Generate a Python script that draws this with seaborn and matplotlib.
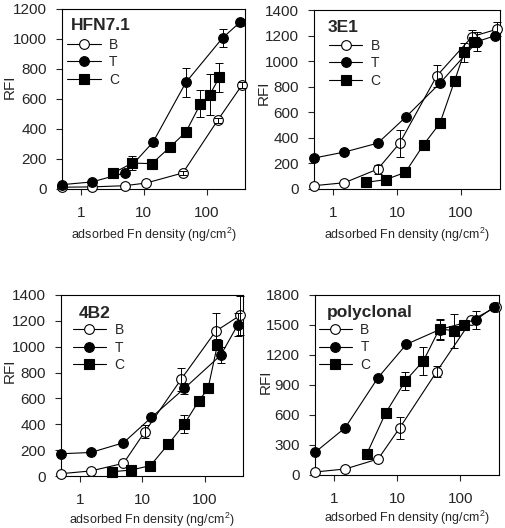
import pandas as pd
import matplotlib
import matplotlib.pyplot as plt
import seaborn as sns
from matplotlib.ticker import FixedLocator, NullLocator

matplotlib.use("Agg")

# adsorbed Fn density (ng/cm^2) for each series
x_b = [0.5, 1.5, 5, 11, 42, 150, 370]
x_t = [0.5, 1.5, 5, 14, 47, 180, 340]
x_c = [3.3, 6.6, 13.5, 26, 47, 80, 113, 160]

# HFN7.1
hfn_b = [12, 14, 22, 40, 107, 457, 695]
hfn_b_err = [0, 0, 0, 0, 12, 15, 20]
hfn_t = [29, 47, 107, 311, 711, 1007, 1111]
hfn_t_err = [0, 0, 0, 25, 95, 60, 25]
hfn_c = [107, 173, 169, 278, 380, 567, 629, 744]
hfn_c_err = [0, 45, 0, 20, 0, 90, 135, 95]

# 3E1
e31_b = [26, 49, 156, 359, 885, 1192, 1250]
e31_b_err = [0, 0, 35, 105, 85, 55, 55]
e31_t = [242, 289, 359, 567, 828, 1153, 1198]
e31_t_err = [0, 0, 0, 0, 0, 75, 0]
e31_c = [52, 73, 130, 346, 515, 848, 1070, 1150]
e31_c_err = [0, 0, 0, 0, 30, 0, 75, 0]

# 4B2
b42_b = [18, 39, 98, 342, 749, 1120, 1243]
b42_b_err = [0, 0, 0, 50, 90, 140, 150]
b42_t = [172, 182, 257, 453, 677, 934, 1171]
b42_t_err = [0, 0, 0, 0, 45, 60, 90]
b42_c = [33, 46, 80, 245, 401, 579, 677, 1017]
b42_c_err = [0, 0, 0, 0, 70, 0, 0, 45]

# polyclonal
poly_b = [30, 60, 160, 472, 1031, 1547, 1680]
poly_b_err = [0, 0, 0, 110, 55, 0, 0]
poly_t = [226, 472, 975, 1307, 1454, 1554, 1680]
poly_t_err = [0, 0, 0, 0, 100, 90, 0]
poly_c = [210, 622, 941, 1141, 1464, 1440, 1504]
poly_c_err = [0, 0, 90, 140, 100, 170, 50]

x_ticks = [1, 10, 100]
x_tick_labels = ["1", "10", "100"]

panels = [
    ("HFN7.1", (hfn_b, hfn_b_err), (hfn_t, hfn_t_err), (hfn_c, hfn_c_err), 1200, 200),
    ("3E1", (e31_b, e31_b_err), (e31_t, e31_t_err), (e31_c, e31_c_err), 1400, 200),
    ("4B2", (b42_b, b42_b_err), (b42_t, b42_t_err), (b42_c, b42_c_err), 1400, 200),
    ("polyclonal", (poly_b, poly_b_err), (poly_t, poly_t_err), (poly_c, poly_c_err), 1800, 300),
]

# axes boxes in pixels: left, top, right, bottom
boxes = [(62, 9, 245, 189), (314, 10, 500, 189), (61, 295, 243, 476), (315, 295, 499, 475)]
title_pos = [(0.05, 0.91), (0.075, 0.905), (0.10, 0.90), (0.065, 0.90)]
legend_pos = [(0.03, 0.84), (0.08, 0.84), (0.065, 0.845), (0.02, 0.845)]
ylabel_pos = [(-0.245, 0.57), (-0.235, 0.54), (-0.245, 0.58), (-0.228, 0.52)]
xlabel_pad = [4, 4, 2.5, 2]

W, H = 505, 528


def build_frame(b, t, c):
    rows = []
    for name, xs, (ys, es) in (("B", x_b, b), ("T", x_t, t), ("C", x_c, c)):
        for x, y, e in zip(xs, ys, es):
            rows.append({"series": name, "density": x, "rfi": y, "err": e})
    return pd.DataFrame(rows)


def draw_panel(ax, title, b, t, c, ymax, ystep, tpos, lpos, ylpos, xpad):
    df = build_frame(b, t, c)
    styles = {
        "B": dict(marker="o", markerfacecolor="white", markersize=7),
        "T": dict(marker="o", markerfacecolor="black", markersize=7),
        "C": dict(marker="s", markerfacecolor="black", markersize=6.5),
    }
    for name in ["B", "T", "C"]:
        sub = df[df["series"] == name]
        sns.lineplot(
            data=sub,
            x="density",
            y="rfi",
            color="black",
            linewidth=0.8,
            markeredgecolor="black",
            markeredgewidth=0.8,
            sort=False,
            label=name,
            ax=ax,
            zorder=3,
            clip_on=False,
            **styles[name],
        )
        err = sub[sub["err"] > 0]
        ax.errorbar(
            err["density"], err["rfi"], yerr=err["err"], fmt="none",
            ecolor="black", elinewidth=0.7, capsize=3, capthick=0.7, zorder=4,
            clip_on=False,
        )
    ax.set_xscale("log")
    ax.set_xlim(0.5, 410)
    ax.set_ylim(0, ymax)
    ax.set_yticks(list(range(0, ymax + 1, ystep)))
    ax.xaxis.set_major_locator(FixedLocator(x_ticks))
    ax.set_xticklabels(x_tick_labels)
    ax.xaxis.set_minor_locator(NullLocator())
    ax.tick_params(axis="both", direction="out", length=4.3, width=0.8,
                   labelsize=11)
    ax.tick_params(axis="x", pad=8)
    ax.tick_params(axis="y", pad=6.5)
    ax.set_xlabel("adsorbed Fn density (ng/cm$^2$)", fontsize=9, labelpad=xpad)
    ax.set_ylabel("RFI", fontsize=11)
    ax.yaxis.set_label_coords(*ylpos)
    for pos in ["top", "bottom", "right", "left"]:
        ax.spines[pos].set_visible(True)
        ax.spines[pos].set_edgecolor("black")
        ax.spines[pos].set_linewidth(0.8)
    ax.text(tpos[0], tpos[1], title, transform=ax.transAxes, fontsize=12.5,
            fontweight="bold", ha="left", va="center")
    ax.legend(loc="upper left", bbox_to_anchor=lpos, frameon=False,
              fontsize=10, handlelength=2.4, handletextpad=0.6,
              labelspacing=0.25, borderpad=0, borderaxespad=0, numpoints=1)


if __name__ == "__main__":
    sns.set_style("ticks")
    plt.rcParams["font.family"] = ["Liberation Sans", "DejaVu Sans"]
    plt.rcParams["mathtext.fontset"] = "custom"
    plt.rcParams["mathtext.rm"] = "Liberation Sans"
    fig = plt.figure(figsize=(W / 100, H / 100), dpi=100)
    for (title, b, t, c, ymax, ystep), (l, tp, r, bt), tpos, lpos, ylpos, xpad in zip(
        panels, boxes, title_pos, legend_pos, ylabel_pos, xlabel_pad
    ):
        ax = fig.add_axes([l / W, 1 - bt / H, (r - l) / W, (bt - tp) / H])
        draw_panel(ax, title, b, t, c, ymax, ystep, tpos, lpos, ylpos, xpad)
    fig.savefig("out.png", dpi=100)
    plt.close(fig)
